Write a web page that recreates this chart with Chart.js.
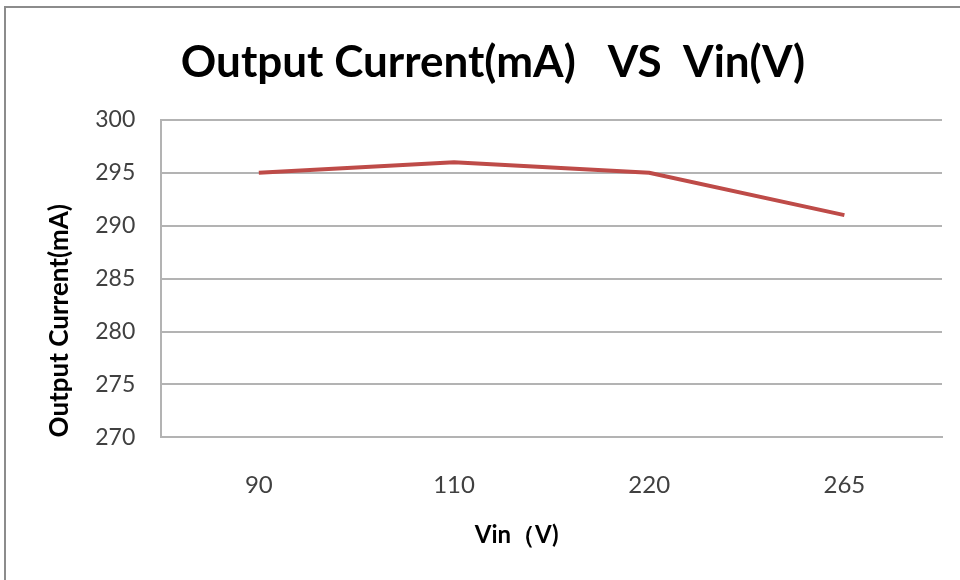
<!DOCTYPE html>
<html>
<head>
<meta charset="utf-8">
<script src="https://cdn.jsdelivr.net/npm/chart.js@4/dist/chart.umd.min.js"></script>
<style>
body{margin:0;background:#fff}
#wrap{position:relative;width:960px;height:580px;overflow:hidden}
#frame{position:absolute;left:4px;top:6px;width:1000px;height:1000px;border:2px solid #8c8c8c;box-sizing:border-box}
canvas{position:absolute;left:0;top:0}
</style>
</head>
<body>
<div id="wrap">
<div id="frame"></div>
<canvas id="canvas" width="960" height="580"></canvas>
</div>
<script>
// Vin (V) categories and measured output current (mA)
var vinLabels = ['90', '110', '220', '265'];
var outputCurrent = [295, 296, 295, 291];
var yMin = 270, yMax = 300, yStep = 5;

var fontFam = 'Lato, "Open Sans", sans-serif';

var ctx = document.getElementById('canvas').getContext('2d');
var myChart = new Chart(ctx, {
    type: 'line',
    data: {
        labels: vinLabels,
        datasets: [{
            label: 'Output Current(mA)',
            data: outputCurrent,
            borderColor: '#BE4B48',
            backgroundColor: 'transparent',
            borderWidth: 4,
            pointRadius: 0,
            tension: 0
        }]
    },
    options: {
        responsive: false,
        animation: false,
        layout: {
            padding: {left: 44, right: 18, top: 0, bottom: 30}
        },
        plugins: {
            legend: {display: false},
            tooltip: {enabled: false},
            title: {
                display: true,
                text: 'Output Current(mA)   VS  Vin(V)',
                color: '#000',
                font: {family: fontFam, size: 44, weight: 'bold'},
                padding: {top: 36, bottom: 31}
            }
        },
        scales: {
            x: {
                offset: true,
                // ticks hidden, tickLength only used as spacing (padding is counted twice by chart.js)
                grid: {display: false, drawTicks: true, tickLength: 33, tickColor: 'transparent'},
                border: {display: true, color: '#b3b3b3', width: 2},
                ticks: {color: '#404040', font: {family: fontFam, size: 24}, padding: 0},
                title: {
                    display: true,
                    text: 'Vin（V)            ',
                    color: '#000',
                    font: {family: fontFam, size: 24, weight: 'bold'},
                    padding: {top: 22, bottom: 0}
                }
            },
            y: {
                min: yMin,
                max: yMax,
                ticks: {stepSize: yStep, color: '#404040', font: {family: fontFam, size: 23}, padding: 0},
                grid: {color: '#b3b3b3', lineWidth: 2, drawTicks: true, tickLength: 26, tickColor: 'transparent'},
                border: {display: true, color: '#b3b3b3', width: 2},
                title: {
                    display: true,
                    text: 'Output Current(mA)',
                    align: 'start',
                    color: '#000',
                    font: {family: fontFam, size: 26, weight: 'bold'},
                    padding: {top: 0, bottom: 20}
                }
            }
        }
    }
});
</script>
</body>
</html>
